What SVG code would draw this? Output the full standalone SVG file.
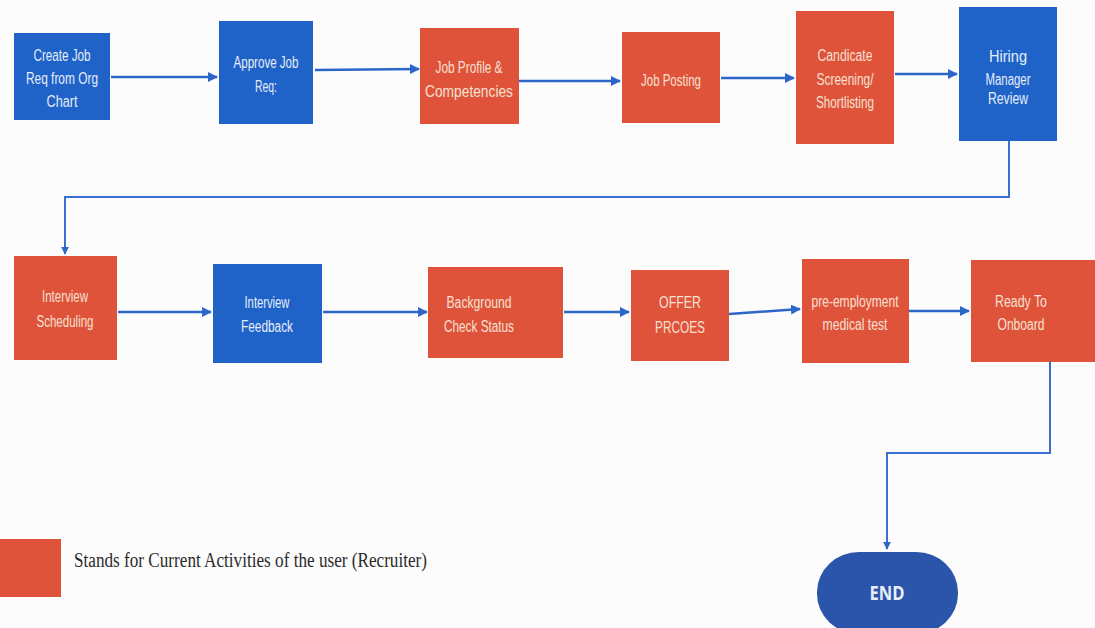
<svg xmlns="http://www.w3.org/2000/svg" width="1095" height="628" viewBox="0 0 1095 628">
<style>
.blue{fill:#1f63c9}
.red{fill:#df533b}
.t{font-family:"Liberation Sans",Arial,sans-serif;font-size:16px;text-anchor:middle}
.tb{fill:#e6edf8}
.tr{fill:#f6e0d2}
.c{fill:none;stroke:#2e65c8;stroke-width:2.5}
.c2{fill:none;stroke:#3a6fcf;stroke-width:2}
.leg{font-family:"Liberation Serif","Times New Roman",serif;font-size:20px;fill:#2b2b2b}
</style>
<defs>
<marker id="ah" viewBox="0 0 10 10" refX="9" refY="5" markerWidth="4" markerHeight="4" orient="auto" markerUnits="strokeWidth">
<path d="M0,0 L10,5 L0,10 z" fill="#2e65c8"/>
</marker>
</defs>
<rect width="1095" height="628" fill="#fcfcfd"/>

<g id="connectors">
<path class="c" d="M111,77 L217,77" marker-end="url(#ah)"/>
<path class="c" d="M315,70 L419,69" marker-end="url(#ah)"/>
<path class="c" d="M519,81 L620,81" marker-end="url(#ah)"/>
<path class="c" d="M721,78 L794,78" marker-end="url(#ah)"/>
<path class="c" d="M895,74 L957,74" marker-end="url(#ah)"/>
<path class="c2" d="M1009,141 L1009,197 L65,197 L65,254" marker-end="url(#ah)"/>
<path class="c" d="M118,312 L211,312" marker-end="url(#ah)"/>
<path class="c" d="M323,312 L427,312" marker-end="url(#ah)"/>
<path class="c" d="M564,312 L629,312" marker-end="url(#ah)"/>
<path class="c" d="M729,314 L800,309" marker-end="url(#ah)"/>
<path class="c" d="M909,311 L969,311" marker-end="url(#ah)"/>
<path class="c2" d="M1050,362 L1050,453 L887,453 L887,549" marker-end="url(#ah)"/>
</g>

<g id="n1">
<rect class="blue" x="14" y="33" width="96" height="87"/>
<text class="t tb"><tspan x="62" y="61" textLength="57" lengthAdjust="spacingAndGlyphs">Create Job</tspan><tspan x="62" y="84" textLength="72" lengthAdjust="spacingAndGlyphs">Req from Org</tspan><tspan x="62" y="107" textLength="31" lengthAdjust="spacingAndGlyphs">Chart</tspan></text>
</g>
<g id="n2">
<rect class="blue" x="219" y="21" width="94" height="103"/>
<text class="t tb"><tspan x="266" y="68" textLength="65" lengthAdjust="spacingAndGlyphs">Approve Job</tspan><tspan x="266" y="92" textLength="22" lengthAdjust="spacingAndGlyphs">Req:</tspan></text>
</g>
<g id="n3">
<rect class="red" x="420" y="28" width="99" height="96"/>
<text class="t tr"><tspan x="469" y="73" textLength="67" lengthAdjust="spacingAndGlyphs">Job Profile &amp;</tspan><tspan x="469" y="97" textLength="88" lengthAdjust="spacingAndGlyphs">Competencies</tspan></text>
</g>
<g id="n4">
<rect class="red" x="622" y="32" width="98" height="91"/>
<text class="t tr"><tspan x="671" y="86" textLength="60" lengthAdjust="spacingAndGlyphs">Job Posting</tspan></text>
</g>
<g id="n5">
<rect class="red" x="796" y="11" width="98" height="133"/>
<text class="t tr"><tspan x="845" y="61" textLength="55" lengthAdjust="spacingAndGlyphs">Candicate</tspan><tspan x="845" y="85" textLength="57" lengthAdjust="spacingAndGlyphs">Screening/</tspan><tspan x="845" y="108" textLength="58" lengthAdjust="spacingAndGlyphs">Shortlisting</tspan></text>
</g>
<g id="n6">
<rect class="blue" x="959" y="7" width="98" height="134"/>
<text class="t tb"><tspan x="1008" y="62" textLength="38" lengthAdjust="spacingAndGlyphs">Hiring</tspan><tspan x="1008" y="85" textLength="45" lengthAdjust="spacingAndGlyphs">Manager</tspan><tspan x="1008" y="104" textLength="40" lengthAdjust="spacingAndGlyphs">Review</tspan></text>
</g>

<g id="n7">
<rect class="red" x="14" y="256" width="103" height="104"/>
<text class="t tr"><tspan x="65" y="302" textLength="46" lengthAdjust="spacingAndGlyphs">Interview</tspan><tspan x="65" y="327" textLength="57" lengthAdjust="spacingAndGlyphs">Scheduling</tspan></text>
</g>
<g id="n8">
<rect class="blue" x="213" y="264" width="109" height="99"/>
<text class="t tb"><tspan x="267" y="308" textLength="45" lengthAdjust="spacingAndGlyphs">Interview</tspan><tspan x="267" y="332" textLength="52" lengthAdjust="spacingAndGlyphs">Feedback</tspan></text>
</g>
<g id="n9">
<rect class="red" x="428" y="267" width="135" height="91"/>
<text class="t tr"><tspan x="479" y="308" textLength="65" lengthAdjust="spacingAndGlyphs">Background</tspan><tspan x="479" y="332" textLength="70" lengthAdjust="spacingAndGlyphs">Check Status</tspan></text>
</g>
<g id="n10">
<rect class="red" x="631" y="270" width="98" height="91"/>
<text class="t tr"><tspan x="680" y="308" textLength="42" lengthAdjust="spacingAndGlyphs">OFFER</tspan><tspan x="680" y="333" textLength="50" lengthAdjust="spacingAndGlyphs">PRCOES</tspan></text>
</g>
<g id="n11">
<rect class="red" x="802" y="259" width="107" height="104"/>
<text class="t tr"><tspan x="855" y="307" textLength="87" lengthAdjust="spacingAndGlyphs">pre-employment</tspan><tspan x="855" y="330" textLength="65" lengthAdjust="spacingAndGlyphs">medical test</tspan></text>
</g>
<g id="n12">
<rect class="red" x="971" y="260" width="124" height="102"/>
<text class="t tr"><tspan x="1021" y="307" textLength="52" lengthAdjust="spacingAndGlyphs">Ready To</tspan><tspan x="1021" y="330" textLength="47" lengthAdjust="spacingAndGlyphs">Onboard</tspan></text>
</g>

<g id="end">
<rect x="817" y="552" width="141" height="82" rx="42" ry="40" fill="#2b55ab"/>
<text x="887" y="600" font-family="'Open Sans','DejaVu Sans',sans-serif" font-weight="bold" font-size="20" fill="#e8eef8" text-anchor="middle" textLength="35" lengthAdjust="spacingAndGlyphs">END</text>
</g>

<g id="legend">
<rect class="red" x="0" y="539" width="61" height="58"/>
<text class="leg" x="74" y="567" textLength="353" lengthAdjust="spacingAndGlyphs">Stands for Current Activities of the user (Recruiter)</text>
</g>
</svg>
